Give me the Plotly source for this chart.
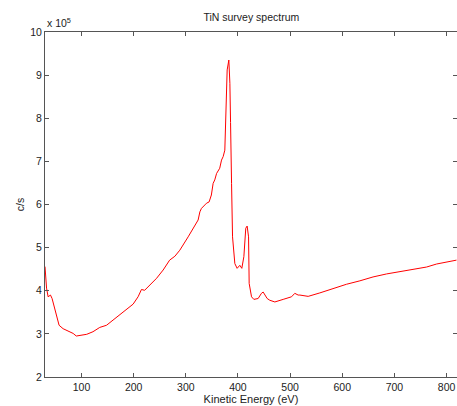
import plotly.graph_objects as go

energy = [30, 31, 33, 36, 40.5, 43.6, 48.8, 53, 57, 64.7, 74, 84, 90, 100, 110, 122, 135, 148,
          160.6, 173, 186, 199, 208.5, 215, 221, 231, 244, 256.5, 269, 279, 288.5, 304.5, 308.5,
          320.5, 323.6, 327, 330, 336.5, 339.7, 344.7, 347.4, 349, 352.4, 355.5, 359, 365,
          368.5, 371.6, 374.8, 378, 379.3, 382.5, 384.5, 385.8, 386.3, 387.7, 389.6, 394,
          398.4, 403.6, 407.4, 411.3, 415, 417.6, 420.3, 421.5, 426, 430.5, 438.7, 445, 448.3,
          451.6, 456, 461, 470.7, 486.7, 499.5, 502.7, 509, 515.4, 518.7, 534.6, 557, 582.6,
          608, 633.8, 659, 685, 710.5, 736, 761.7, 780.9, 800, 819]
counts = [4.56, 4.30, 4.06, 3.86, 3.90, 3.82, 3.59, 3.36, 3.20, 3.12, 3.07, 3.01, 2.95, 2.97, 2.99,
          3.05, 3.15, 3.20, 3.32, 3.43, 3.55, 3.69, 3.86, 4.03, 4.01, 4.13, 4.29, 4.48, 4.71,
          4.80, 4.94, 5.25, 5.33, 5.60, 5.64, 5.83, 5.91, 5.99, 6.03, 6.06, 6.14, 6.22, 6.49,
          6.57, 6.72, 6.84, 7.03, 7.11, 7.26, 8.81, 9.12, 9.35, 8.81, 7.90, 7.65, 6.49, 5.25,
          4.63, 4.52, 4.59, 4.52, 4.79, 5.45, 5.50, 5.25, 4.17, 3.86, 3.80, 3.82, 3.94, 3.97,
          3.90, 3.82, 3.78, 3.74, 3.80, 3.86, 3.86, 3.94, 3.90, 3.90, 3.87, 3.95, 4.05, 4.15,
          4.23, 4.32, 4.39, 4.44, 4.49, 4.55, 4.62, 4.67, 4.71]

x_ticks = [100, 200, 300, 400, 500, 600, 700, 800]
y_ticks = [2, 3, 4, 5, 6, 7, 8, 9, 10]

font = "Liberation Sans, Arial, sans-serif"

fig = go.Figure()
fig.add_trace(go.Scatter(x=energy, y=counts, mode="lines",
                         line=dict(color="#ff0000", width=1), showlegend=False))

axis_common = dict(showgrid=False, zeroline=False, showline=True, linecolor="#555555",
                   linewidth=1, ticks="inside", ticklen=4, tickcolor="#555555",
                   mirror="ticks", tickfont=dict(family=font, size=10.5, color="#222222"))

fig.update_layout(
    width=457, height=406,
    margin=dict(l=45, r=0, t=32, b=29),
    paper_bgcolor="white", plot_bgcolor="white",
    title=dict(text="TiN survey spectrum", font=dict(family=font, size=10.5, color="#222222"),
               x=0.55, xanchor="center", y=1 - 17 / 406, yanchor="middle", yref="container"),
    xaxis=dict(range=[30, 820], tickvals=x_ticks, ticktext=[str(v) for v in x_ticks],
               title=dict(text="Kinetic Energy (eV)", font=dict(family=font, size=11, color="#222222"),
                          standoff=0),
               **axis_common),
    yaxis=dict(range=[2, 10], tickvals=y_ticks, ticktext=[str(v) for v in y_ticks],
               title=dict(text="c/s", font=dict(family=font, size=10.5, color="#222222"), standoff=3),
               **axis_common),
    annotations=[dict(text="x 10<sup>5</sup>", xref="paper", yref="paper", x=0, y=1,
                      xanchor="left", yanchor="bottom", yshift=1, showarrow=False,
                      font=dict(family=font, size=10.5, color="#222222"))],
)

fig.write_html("out.html", config={"displayModeBar": False},
               post_script="document.body.style.margin='0';document.body.style.overflow='hidden';")
